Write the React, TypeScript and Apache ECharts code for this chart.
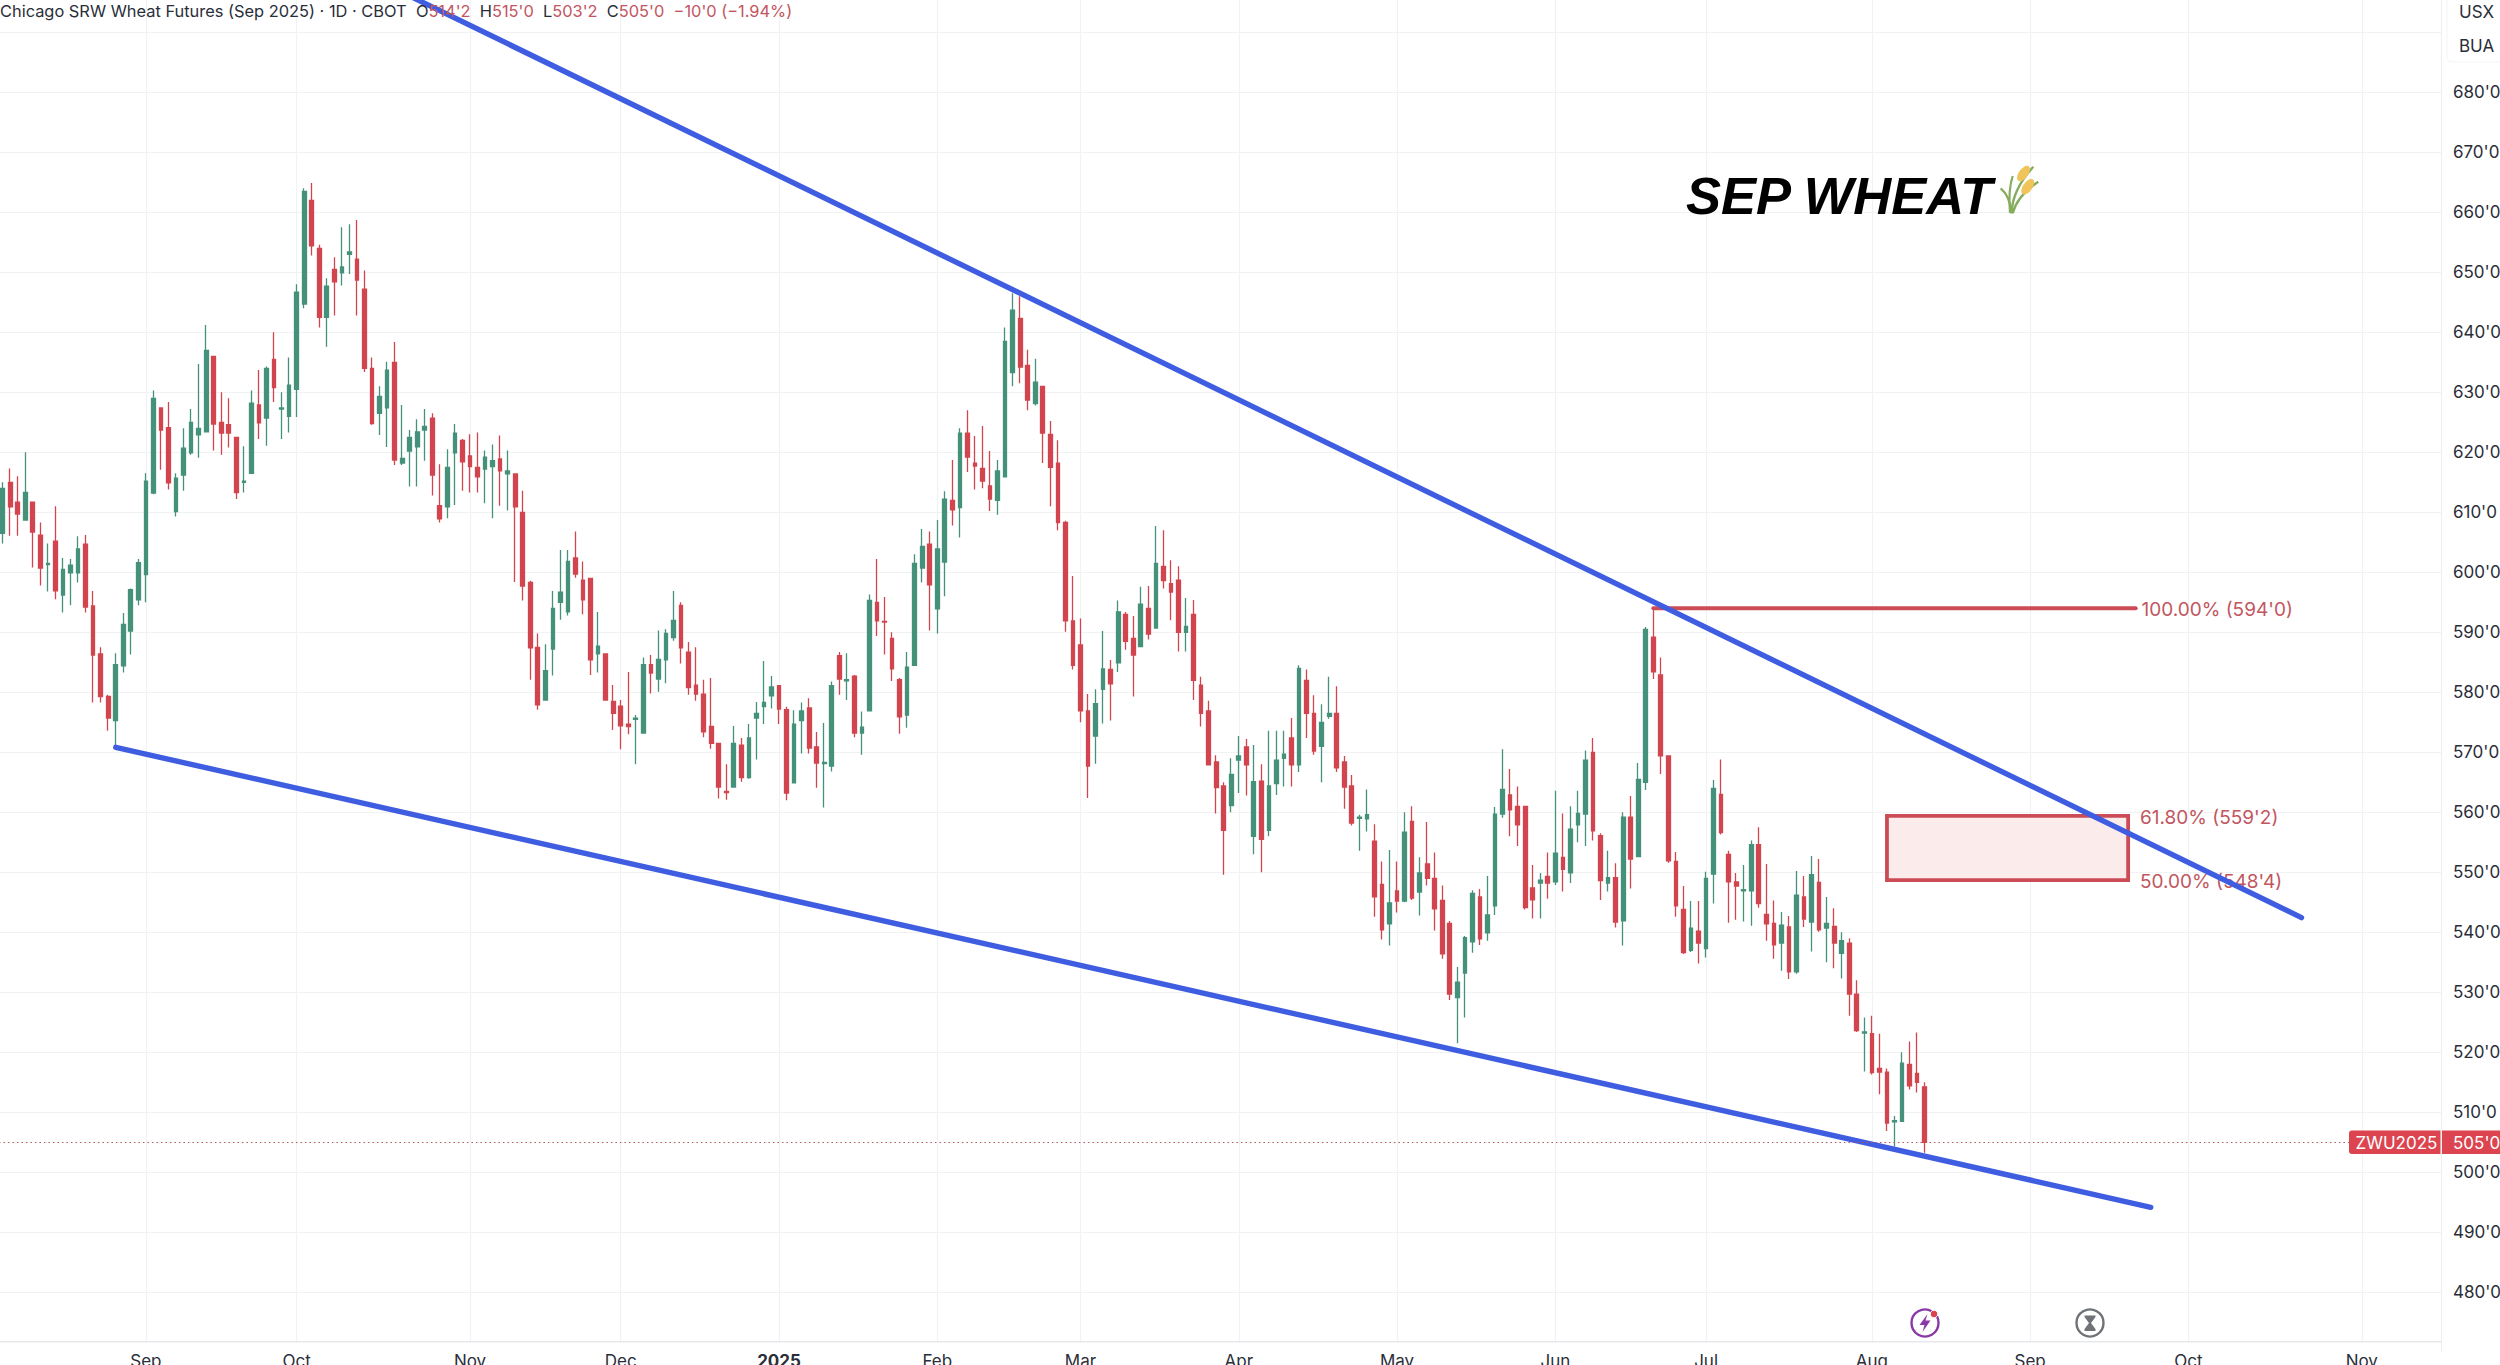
import React, { useEffect, useRef } from "react";
import * as echarts from "echarts";

const opens = [606.5,615,611.7,608.7,611.7,606.2,601.3,605.2,596.2,599.9,599.9,604.7,594.4,586.4,579.3,575.3,584.4,590.2,595.4,599.6,
613.2,627.4,624.1,610.1,616.2,619.9,622.9,623.4,636,625,624.6,622.5,615,616.5,627.9,625.7,635.5,627.2,626,630.5,
644.7,662,654,642.5,650.5,649.9,653,652.2,647.2,634,626.5,627.4,635,618.2,620.2,620.9,623.7,625.7,611.1,610.9,
619.9,622,619.4,617.5,617.2,617.6,618.9,616.4,616.4,610,598.3,587.5,578.7,587.2,595,593.4,602.4,598.7,599,586.4,
586.4,578.5,577.7,574.7,575.5,573.2,584.6,582.2,585.4,589.1,594.5,586.7,581.2,579.7,574.3,571.5,563.5,564.2,571.2,565.8,
575.7,577.6,579.4,581.1,577.1,564.9,575.3,577.4,570.9,568.1,567.7,586.1,581.9,582.7,573.2,576.9,595,591.8,589,582.1,
576.2,584.5,600.7,604.7,593.9,601.7,612,610.8,623.2,618.2,617.3,614.4,612,615.9,633.3,642.3,634.5,628.1,631,623,
618.2,608.3,591.9,587.9,576.9,572.7,580.5,583.8,584.9,593,589,587.6,594,590.7,601,598.1,598.7,590,593,581.2,
576.9,568.4,564.4,561.1,568.7,570.9,556,565.2,557,564.8,569,572.4,567.9,582,576.5,571,576,576.5,568.4,564.4,
559,558.9,555.2,548,541.4,546.9,545.2,558.5,546.7,551.4,549,545.3,541.5,529.1,533.2,538.4,545.9,539.9,544.4,559.7,
562.9,561,561,547.4,548.2,549.3,548.4,552.5,549.9,557.9,559.7,570,556.1,548.2,549.1,541.9,559.2,552.6,565,589.2,
582.9,569.4,551.8,543.8,537,540.2,537.3,549.7,563,553,548.4,546.9,546.9,554.6,543,541.5,538.2,540.9,533.4,545.9,
541.7,548.3,540.7,541,536.5,538.2,529.7,523.2,523.1,517.3,516.7,508.4,508.5,518,516.5,514.25];
const closes = [614,610.9,609.7,613.3,606.7,600.7,601.5,596.9,600.5,601.2,603.9,594.2,586.2,579.3,575.7,584.6,591.3,597.1,601.6,615.2,
629,623.7,614.9,615.7,620.7,625,624,637,624.7,623.2,623.2,613.3,615.2,628.2,624.9,634,630.8,627.4,631.2,646.7,
663.5,654.4,642.5,647.7,648.4,650.9,653.4,648.7,634,624.8,629.3,633.7,618.7,619,622.5,623.4,624.3,616.2,608.9,617.5,
623.2,618.4,617.6,615.9,619.2,618.6,616.9,616.9,610.9,597.7,587.4,577.9,583.6,594,596.7,601.8,599.7,595.4,585.4,587.7,
578.7,576.5,574.4,574.3,575.7,584.6,583.2,585.5,589.8,592,587.4,580.8,579.7,573.4,571.5,564.2,563.3,571.5,565.8,572.4,
576.5,578.3,580.9,577.2,563.2,574.7,576.9,570.7,568.2,568.3,581.1,582.2,582.1,573.2,574.2,595.3,591.9,591.7,583.9,575.9,
584.2,601.5,604.3,597.9,603.9,612.2,610.4,623.2,619.2,617.7,615.2,612.2,616.9,638.5,643.7,634.2,628.7,631.7,623.2,617.5,
608.3,591.9,584.5,576.9,567.7,578.1,583.9,581.4,593.4,588.5,586.2,594.7,589.7,601.5,598.6,596.7,590,591,582,576.5,
567.9,564.1,557,566.3,569.4,567.9,565.1,555.5,564.4,568.7,569.7,567.9,584,576.5,570.2,575,576.5,567.4,564.2,558.2,
559.2,559.6,545.9,540.4,544.9,545.2,556.7,545.7,549.9,549,543.9,536.4,529.7,531.7,539.1,546.5,538.9,542.9,559.7,563.8,
560.4,557.9,544.1,545.4,548.7,548.2,553.2,550.5,557.2,559.8,568.7,556.9,548.6,549.1,541.7,559.2,552.2,565.5,590.5,583.4,
569.4,551.9,544.4,536.6,540.7,538.2,549,564,556.6,548.4,547.7,547.1,554.6,544.8,541.4,537.9,541.2,533.4,546.2,542.2,
549.6,540.4,541.5,538.2,538.6,529.7,523.6,523.4,516.6,516.7,508.2,508.6,518.2,514.4,515,505];
const lows = [604.8,606.1,606.1,608.7,600.8,597.8,596.8,595.5,593.3,594.5,598.3,593.3,578.3,578.3,573.6,570.9,583.3,586.3,594.5,595,
613,617.1,613.8,609.3,613.6,619.6,619.1,623.4,620.3,619.6,620.8,612.2,613.3,616.4,622.2,621.1,628.4,622.2,623.3,625.9,
644,652.8,640.8,637.6,642.8,647.8,649.7,642.8,633.4,624.6,622.9,620.9,617.9,617.9,614.3,614.3,618.6,612.8,608.3,609,
611.2,613.6,613.3,613.3,611.5,609,611.1,610.3,598.4,595.3,582.1,577.1,578.7,582.8,592.1,592.8,599.1,593,582.9,583.3,
578.6,573.7,570.5,573,568,573.1,579.8,580.1,581.5,588.6,584.8,579.6,578.6,572.5,570.6,562.3,562.1,564.2,565.1,565.6,
568.8,574.7,577.3,574.7,562,564.8,569.8,569.8,564.1,560.8,566.8,579.6,578.7,572.5,569.6,576.9,589.4,586.3,581.9,573.1,
574.1,584.5,598.3,590.3,589.8,596,607.8,605.8,616.7,613.8,614,610.2,609.6,615.9,631,631.5,627,627.8,618.2,611,
607,590.1,583.8,575,562.4,568.1,574.8,575.3,583.4,587.1,579.3,587.6,588.8,590.7,597.3,592,586.8,586.8,578.7,574.3,
567.9,559.8,549.6,560,563.2,562.8,553,550,556,562.9,564.3,564.3,566.7,572.4,569.6,565,575.6,566.7,560.6,557.8,
553.6,556.8,542.6,538.8,537.8,543.3,545,545.4,542.8,547.8,540.3,535.6,528.7,521.5,525.8,536.6,537.9,538.6,542.9,559.1,
556,554.4,543.8,542.3,542.3,545.6,547.9,546.8,548.2,555,554.4,555.3,545.4,546.8,540.8,537.8,547.3,552.6,563.7,582.2,
566.4,551.6,542.6,536.4,536.7,534.8,535.8,544.8,556.3,541.6,542.1,541.8,541.1,544.1,538.6,535.6,533.6,532.2,533.1,540.9,
536.8,540.1,535,534,532.3,526.1,523.4,516.8,516.3,513,506.9,504.3,508.5,513.8,513.3,503.25];
const highs = [615,617.3,616,620,611.7,608.3,604.8,611,602.4,602.2,606,606.2,596.9,587.5,579.6,586.5,593.2,597.3,602.2,616.5,
630.3,627.4,628.4,616.5,624,627.2,634.7,641.2,636,630,629,622.5,621,630.3,633.7,634.3,640,630,635.8,648,
664,664.9,654.6,649,652.5,657.5,658,658.7,650.3,635.8,631,635.1,638.4,627.9,623.7,625.5,627.2,626.5,618,620.5,
624.7,622.2,623,623.3,620.3,621.3,622.8,620.3,616.4,613.6,598.6,589.8,588,596.9,603.7,603.7,606.8,601.8,599,593.4,
586.4,581.2,578.7,583.4,576.2,585.8,586.2,590.3,590.5,596.9,595,588.4,587.5,582.1,582.4,571.5,568,574.4,572.4,574.7,
578.4,585.2,582.7,581.2,577.6,577,578.3,579,573.4,574.9,581.8,586.7,586.5,582.9,576.8,596.3,602.2,595.9,590,582.4,
586.7,603,607.2,606.8,608.7,613.5,618.7,624,627,622.7,624.4,620.2,618.7,640.8,646.5,646,637.1,635.6,631.1,625.2,
622,608.6,599.4,592.3,579.7,580.5,590.2,585.4,595.3,593.4,592.7,597.6,597.7,607.7,607,602,601,595.7,595.4,582.6,
578.6,569.5,565,569,572.7,572.2,571.2,568,573.6,573.6,573.6,575.7,584.5,583.8,579.5,578,582.6,581,569.4,566.2,
559.6,563.8,558,551.8,553.7,551.8,560,561,552.5,558.4,553.3,547.8,541.9,534.2,539.4,547,547.2,549.4,560.9,570.5,
567.2,564.3,561,551.2,549.9,553.3,563.6,559.8,561,563.6,570.3,572.4,556.5,553.6,551.5,560,562.7,568.2,590.9,594,
585.8,569.4,553.4,547.7,545.2,545.2,550.1,565.4,568.8,553.6,549.9,551.2,555.3,557.5,551.4,545.3,543.4,542.7,550.2,549.4,
552.7,552.2,545.9,544,540,539,532,525.8,526.1,523.1,517.3,509.4,520,521.8,523.3,515];

const barCount = 324;
const categories = Array.from({ length: barCount }, (_, i) => String(i));
const monthTicks: Record<number, string> = {
  19: "Sep", 39: "Oct", 62: "Nov", 82: "Dec", 103: "2025", 124: "Feb", 143: "Mar", 164: "Apr",
  185: "May", 206: "Jun", 226: "Jul", 248: "Aug", 269: "Sep", 290: "Oct", 313: "Nov",
};
const upperTrend = [[50, 698.5], [305, 542.45]];
const lowerTrend = [[15, 570.83], [285, 494.17]];
const fibLine = [[219, 594], [283, 594]];
const fibZone = { from: 250, to: 282, top: 559.4, bottom: 548.7 };
const lastPrice = 505;
const topPriceLabel = 680;

const UP = "#45917a";
const DOWN = "#d2454f";
const FIB = "#cb4c56";
const FIBTEXT = "#c2565f";
const BLUE = "#3f5de0";
const GRID = "#f1f2f4";
const FONT = "Inter, 'Noto Sans', sans-serif";

const WHEAT = "#86ad5e";

export default function App() {
  const ref = useRef<HTMLDivElement>(null);
  useEffect(() => {
    document.body.style.margin = "0";
    const chart = echarts.init(ref.current!, undefined, { renderer: "svg" });
    const option: any = {
      animation: false,
      backgroundColor: "#ffffff",
      textStyle: { fontFamily: FONT },
      grid: { left: -1.07, width: 2442, top: -27.7, height: 1380, containLabel: false, outerBoundsMode: "none" },
      xAxis: {
        type: "category",
        data: categories,
        offset: -10.6,
        axisLine: { show: true, lineStyle: { color: "#dfe1e4", width: 1.5 } },
        axisTick: { show: false },
        axisLabel: {
          interval: (i: number) => i in monthTicks,
          formatter: (v: string) => {
            const t = monthTicks[Number(v)];
            return t === "2025" ? "{b|2025}" : t || "";
          },
          rich: { b: { fontWeight: "bold", fontSize: 17, fontFamily: FONT, color: "#2a2e39" } },
          color: "#2a2e39",
          fontSize: 17,
          fontFamily: FONT,
          margin: 11,
          hideOverlap: false,
        },
        splitLine: {
          show: true,
          interval: (i: number) => i in monthTicks,
          alignWithLabel: true,
          lineStyle: { color: GRID, width: 1.2 },
        },
      },
      yAxis: {
        type: "value",
        position: "right",
        min: 470,
        max: 700,
        interval: 10,
        axisLine: { show: true, lineStyle: { color: "#eceef0", width: 1 } },
        axisTick: { show: false },
        axisLabel: {
          formatter: (v: number) => (v > topPriceLabel ? "" : `${v}'0`),
          color: "#2a2e39",
          fontSize: 17,
          fontFamily: FONT,
          margin: 12,
          showMinLabel: false,
          showMaxLabel: false,
        },
        splitLine: { show: true, lineStyle: { color: GRID, width: 1.2 } },
      },
      series: [
        {
          type: "candlestick",
          barWidth: 4.2,
          data: opens.map((o, i) => [o, closes[i], lows[i], highs[i]]),
          itemStyle: { color: UP, color0: DOWN, borderColor: UP, borderColor0: DOWN, borderWidth: 1.3 },
          markLine: {
            silent: true,
            symbol: "none",
            label: { show: false },
            lineStyle: { color: "#b0565d", type: [1.5, 3], width: 1.2 },
            data: [{ yAxis: lastPrice }],
          },
        },
        {
          type: "line",
          data: upperTrend,
          showSymbol: false,
          symbol: "none",
          lineStyle: { color: BLUE, width: 5.4, cap: "round" },
          z: 4,
        },
        {
          type: "line",
          data: lowerTrend,
          showSymbol: false,
          symbol: "none",
          lineStyle: { color: BLUE, width: 5.4, cap: "round" },
          z: 4,
        },
        {
          type: "line",
          data: fibLine,
          showSymbol: false,
          symbol: "none",
          lineStyle: { color: FIB, width: 4, cap: "round" },
          z: 3,
          markArea: {
            silent: true,
            itemStyle: { color: "#fbebeb", borderColor: FIB, borderWidth: 3.8 },
            data: [[{ coord: [fibZone.from, fibZone.top] }, { coord: [fibZone.to, fibZone.bottom] }]],
          },
        },
      ],
      graphic: [
        // mask below the time axis line
        { type: "rect", z: 1, shape: { x: 0, y: 1342.6, width: 2441, height: 11 }, style: { fill: "#fff" } },
        {
          type: "text", z: 6, x: 0, y: 11,
          style: {
            text: "{k|Chicago SRW Wheat Futures (Sep 2025) · 1D · CBOT  O}{r|514'2}{k|  H}{r|515'0}{k|  L}{r|503'2}{k|  C}{r|505'0}{r|  −10'0 (−1.94%)}",
            verticalAlign: "middle",
            rich: {
              k: { fill: "#2a2e39", fontSize: 16.4, fontFamily: FONT },
              r: { fill: FIBTEXT, fontSize: 16.4, fontFamily: FONT },
            },
          },
        },
        { type: "rect", z: 6, shape: { x: 2447, y: -6, width: 60, height: 68, r: 5 }, style: { fill: "#fff", stroke: "#f3f4f5", lineWidth: 1 } },
        { type: "text", z: 7, x: 2459, y: 12, style: { text: "USX", fontSize: 17, fontFamily: FONT, fill: "#2a2e39", verticalAlign: "middle" } },
        { type: "text", z: 7, x: 2459, y: 46, style: { text: "BUA", fontSize: 17, fontFamily: FONT, fill: "#2a2e39", verticalAlign: "middle" } },
        // title + wheat
        { type: "text", z: 6, x: 1686, y: 195, style: { text: "SEP WHEAT", fontSize: 52.5, fontWeight: "bold", fontStyle: "italic", fontFamily: "'Liberation Sans', Arial, sans-serif", fill: "#000", verticalAlign: "middle" } },
        { type: "bezierCurve", z: 6, shape: { x1: 2011.7, y1: 213.3, x2: 2033.3, y2: 166.7, cpx1: 2012, cpy1: 190 }, style: { stroke: WHEAT, lineWidth: 2.4, fill: "none" } },
        { type: "bezierCurve", z: 6, shape: { x1: 2012.7, y1: 213.3, x2: 2038.3, y2: 181.7, cpx1: 2017, cpy1: 196 }, style: { stroke: WHEAT, lineWidth: 2.4, fill: "none" } },
        { type: "bezierCurve", z: 6, shape: { x1: 2011.7, y1: 213.3, x2: 2000.7, y2: 188.3, cpx1: 2010, cpy1: 196 }, style: { stroke: WHEAT, lineWidth: 2.4, fill: "none" } },
        { type: "bezierCurve", z: 6, shape: { x1: 2010, y1: 213, x2: 2012.7, y2: 176, cpx1: 2008, cpy1: 190 }, style: { stroke: WHEAT, lineWidth: 2.2, fill: "none" } },
        { type: "ellipse", z: 7, x: 2023.5, y: 173.5, rotation: 0.95, shape: { cx: 0, cy: 0, rx: 9, ry: 4.6 }, style: { fill: "#efc45a" } },
        { type: "ellipse", z: 7, x: 2027.7, y: 186.7, rotation: 0.95, shape: { cx: 0, cy: 0, rx: 9, ry: 4.6 }, style: { fill: "#efc45a" } },
        // fib labels
        { type: "text", z: 2, x: 2141.5, y: 609, style: { text: "100.00% (594'0)", fontSize: 19, fontFamily: FONT, fill: FIBTEXT, verticalAlign: "middle" } },
        { type: "text", z: 2, x: 2140, y: 817, style: { text: "61.80% (559'2)", fontSize: 19, fontFamily: FONT, fill: FIBTEXT, verticalAlign: "middle" } },
        { type: "text", z: 2, x: 2140, y: 881.7, style: { text: "50.00% (548'4)", fontSize: 19, fontFamily: FONT, fill: FIBTEXT, verticalAlign: "middle" } },
        // last price tag
        { type: "rect", z: 8, shape: { x: 2349, y: 1130.5, width: 91.5, height: 23.5, r: [3, 0, 0, 3] }, style: { fill: "#dc4450" } },
        { type: "rect", z: 8, shape: { x: 2442, y: 1130.5, width: 60, height: 23.5 }, style: { fill: "#dc4450" } },
        { type: "text", z: 9, x: 2355.5, y: 1142.5, style: { text: "ZWU2025", fontSize: 17, fontFamily: FONT, fill: "#fff", verticalAlign: "middle" } },
        { type: "text", z: 9, x: 2453, y: 1142.5, style: { text: "505'0", fontSize: 17, fontFamily: FONT, fill: "#fff", verticalAlign: "middle" } },
        // bottom icons
        { type: "circle", z: 6, shape: { cx: 1925, cy: 1323, r: 13.5 }, style: { fill: "#fff", stroke: "#8a3aa6", lineWidth: 2.4 } },
        { type: "polygon", z: 7, shape: { points: [[1927.5, 1314], [1919.5, 1325], [1924.5, 1325], [1922.5, 1332], [1930.5, 1320.5], [1925.5, 1320.5]] }, style: { fill: "#8a3aa6" } },
        { type: "circle", z: 7, shape: { cx: 1934, cy: 1314, r: 3.8 }, style: { fill: "#d9454f", stroke: "#fff", lineWidth: 1 } },
        { type: "circle", z: 6, shape: { cx: 2090, cy: 1323, r: 13.5 }, style: { fill: "#fff", stroke: "#6f7276", lineWidth: 2.4 } },
        { type: "polygon", z: 7, shape: { points: [[2084.5, 1315.5], [2095.5, 1315.5], [2095.5, 1317], [2091, 1323], [2095.5, 1329], [2095.5, 1331], [2084.5, 1331], [2084.5, 1329], [2089, 1323], [2084.5, 1317]] }, style: { fill: "#6f7276" } },
      ],
    };
    chart.setOption(option);
    return () => chart.dispose();
  }, []);
  return <div ref={ref} style={{ position: "absolute", left: 0, top: 0, width: 2500, height: 1365, overflow: "hidden" }} />;
}
